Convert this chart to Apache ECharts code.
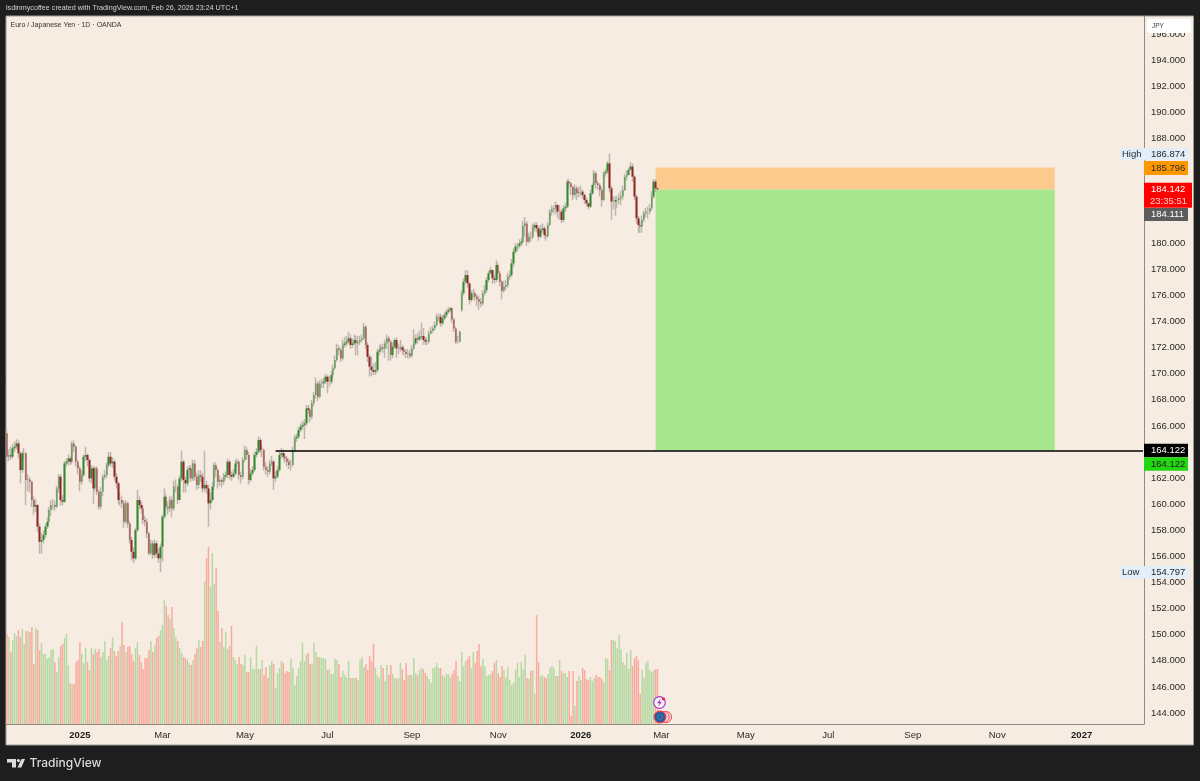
<html>
<head>
    <meta charset="utf-8">
    <title>EURJPY 1D</title>
    <script src="https://cdn.jsdelivr.net/npm/echarts@6/dist/echarts.min.js"></script>
    <style>
        html,body { margin:0; padding:0; width:100%; height:100%; background:#1e1e1e; overflow:hidden; }
        #main { width:1200px; height:781px; }
    </style>
</head>
<body>
    <div id="main"></div>
    <script type="text/javascript">
        // daily candles
        var opens = [
            165.43,163.64,163.77,163.64,164.28,164.41,164.66,163.90,162.62,163.90,
            163.90,161.85,161.90,161.72,160.32,159.81,159.94,158.28,157.13,157.26,
            157.64,158.28,158.66,159.55,159.94,159.94,159.81,161.21,162.11,160.32,
            160.19,163.13,163.26,163.51,163.26,164.66,164.41,163.26,162.75,161.72,
            162.24,163.64,163.77,163.39,161.98,162.75,161.21,162.75,160.96,159.81,
            160.96,162.11,162.24,163.00,163.64,163.13,163.26,162.11,161.60,160.32,
            160.32,160.07,158.66,160.07,158.53,157.26,156.36,155.85,158.02,160.32,
            159.94,159.68,158.79,158.66,157.77,156.23,157.00,156.11,157.00,156.23,
            155.85,156.74,159.04,160.58,159.81,159.68,160.32,159.68,161.34,161.34,
            160.32,161.98,163.26,161.85,161.60,162.62,162.75,161.98,163.13,162.11,
            161.47,162.24,162.11,161.21,161.47,161.21,160.07,160.32,161.34,163.00,
            162.62,161.72,161.85,161.72,162.11,162.24,163.26,162.24,162.11,162.36,
            163.13,163.26,162.24,162.11,163.39,164.15,163.77,161.85,162.36,162.62,
            163.77,164.02,164.92,164.15,164.15,162.87,162.62,162.49,163.13,163.26,
            161.98,162.11,162.62,163.77,163.90,163.64,163.51,163.26,163.00,163.00,
            164.15,165.05,165.17,165.68,165.94,166.07,166.20,167.34,167.22,166.71,
            167.73,168.37,169.26,168.24,169.26,169.26,169.39,169.77,169.39,169.39,
            169.90,170.41,171.05,171.94,171.81,171.17,172.20,172.33,172.45,172.71,
            172.20,172.33,172.58,172.33,172.45,172.58,172.71,173.60,172.20,171.30,
            170.54,170.28,170.15,170.28,171.69,171.81,172.02,171.94,172.33,172.71,
            172.45,171.43,172.07,172.58,171.94,171.94,172.02,171.81,171.69,171.51,
            171.56,171.35,171.94,172.33,172.71,172.63,172.84,172.89,172.58,172.45,
            172.45,173.09,173.30,173.47,173.73,174.37,174.37,173.86,174.24,174.50,
            174.75,174.88,175.01,174.16,173.47,172.45,172.45,174.88,176.16,177.05,
            177.56,176.92,175.65,176.16,176.16,175.90,175.70,175.52,175.39,176.16,
            176.41,177.18,177.69,177.94,177.30,177.18,178.33,177.69,177.05,176.36,
            176.67,176.79,177.43,177.56,178.45,179.35,179.74,179.79,179.99,180.12,
            181.32,181.52,180.12,180.50,180.45,181.22,181.40,181.14,180.50,181.01,
            181.14,180.63,180.55,181.40,182.42,182.60,182.67,182.93,182.42,182.42,
            181.78,182.67,182.80,184.72,184.59,184.33,183.70,184.21,183.82,183.95,
            183.95,183.70,183.31,183.06,182.80,183.82,184.46,185.36,184.59,184.46,
            184.08,183.31,185.36,185.48,186.12,184.21,183.19,183.19,183.31,183.31,
            183.44,183.57,184.08,185.10,185.23,185.61,185.87,185.10,183.57,181.91,
            181.40,181.27,181.78,182.29,182.42,182.42,182.67,183.57,184.72,184.21
        ];
        var closes = [
            163.64,163.77,163.64,164.28,164.41,164.66,163.90,162.62,163.90,163.90,
            161.85,161.90,161.72,160.32,159.81,159.94,158.28,157.13,157.26,157.64,
            158.28,158.66,159.55,159.94,159.94,159.81,161.21,162.11,160.32,160.19,
            163.13,163.26,163.51,163.26,164.66,164.41,163.26,162.75,161.72,162.24,
            163.64,163.77,163.39,161.98,162.75,161.21,162.75,160.96,159.81,160.96,
            162.11,162.24,163.00,163.64,163.13,163.26,162.11,161.60,160.32,160.32,
            160.07,158.66,160.07,158.53,157.26,156.36,155.85,158.02,160.32,159.94,
            159.68,158.79,158.66,157.77,156.23,157.00,156.11,157.00,156.23,155.85,
            156.74,159.04,160.58,159.81,159.68,160.32,159.68,161.34,161.34,160.32,
            161.98,163.26,161.85,161.60,162.62,162.75,161.98,163.13,162.11,161.47,
            162.24,162.11,161.21,161.47,161.21,160.07,160.32,161.34,163.00,162.62,
            161.72,161.85,161.72,162.11,162.24,163.26,162.24,162.11,162.36,163.13,
            163.26,162.24,162.11,163.39,164.15,163.77,161.85,162.36,162.62,163.77,
            164.02,164.92,164.15,164.15,162.87,162.62,162.49,163.13,163.26,161.98,
            162.11,162.62,163.77,163.90,163.64,163.51,163.26,163.00,163.00,164.15,
            165.05,165.17,165.68,165.94,166.07,166.20,167.34,167.22,166.71,167.73,
            168.37,169.26,168.24,169.26,169.26,169.39,169.77,169.39,169.39,169.90,
            170.41,171.05,171.94,171.81,171.17,172.20,172.33,172.45,172.71,172.20,
            172.33,172.58,172.33,172.45,172.58,172.71,173.60,172.20,171.30,170.54,
            170.28,170.15,170.28,171.69,171.81,172.02,171.94,172.33,172.71,172.45,
            171.43,172.07,172.58,171.94,171.94,172.02,171.81,171.69,171.51,171.56,
            171.35,171.94,172.33,172.71,172.63,172.84,172.89,172.58,172.45,172.45,
            173.09,173.30,173.47,173.73,174.37,174.37,173.86,174.24,174.50,174.75,
            174.88,175.01,174.16,173.47,172.45,172.45,173.22,176.16,177.05,177.56,
            176.92,175.65,176.16,176.16,175.90,175.70,175.52,175.39,176.16,176.41,
            177.18,177.69,177.94,177.30,177.18,178.33,177.69,177.05,176.36,176.67,
            176.79,177.43,177.56,178.45,179.35,179.74,179.79,179.99,180.12,181.32,
            181.52,180.12,180.50,180.45,181.22,181.40,181.14,180.50,181.01,181.14,
            180.63,180.55,181.40,182.42,182.60,182.67,182.93,182.42,182.42,181.78,
            182.67,182.80,184.72,184.59,184.33,183.70,184.21,183.82,183.95,183.95,
            183.70,183.31,183.06,182.80,183.82,184.46,185.36,184.59,184.46,184.08,
            183.31,185.36,185.48,186.12,184.21,183.19,183.19,183.31,183.31,183.44,
            183.57,184.08,185.10,185.23,185.61,185.87,185.10,183.57,181.91,181.40,
            181.27,181.78,182.29,182.42,182.42,182.67,183.57,184.72,184.21,184.14
        ];
        var highs = [
            165.81,164.2,164.4,164.6,164.8,164.97,164.9,164.0,164.1,164.3,
            164.0,162.3,162.1,161.8,160.6,160.4,160.0,158.5,157.8,158.0,
            158.5,159.0,159.8,160.3,160.4,160.3,161.4,162.3,162.3,160.7,
            163.3,163.5,163.8,163.7,164.8,164.9,164.5,163.4,162.9,162.6,
            163.8,164.4,163.9,163.5,163.0,162.9,162.9,162.9,161.1,161.3,
            162.3,162.6,163.2,164.0,164.0,163.6,163.4,162.4,161.7,160.9,
            160.6,160.3,160.3,160.2,158.7,157.5,156.7,158.2,161.1,160.6,
            160.2,159.9,159.1,158.9,157.9,157.3,157.2,157.3,157.2,156.6,
            157.0,159.2,161.2,160.8,160.2,160.6,160.6,161.8,161.9,161.5,
            162.2,164.1,163.4,162.1,162.9,163.0,163.0,163.4,163.4,162.4,
            162.6,162.6,162.4,164.1,161.8,161.5,160.9,161.7,163.2,163.2,
            162.8,162.2,162.0,162.4,162.5,163.5,163.4,162.5,162.7,163.4,
            163.5,163.4,162.5,163.6,164.5,164.4,164.0,162.7,162.9,164.0,
            164.3,165.2,165.1,164.5,164.3,163.2,162.9,163.4,163.7,163.4,
            162.5,162.9,164.0,164.3,164.2,163.9,163.7,163.5,163.4,164.4,
            165.3,165.4,165.9,166.2,166.4,166.5,167.6,167.6,167.4,168.0,
            168.6,169.7,169.4,169.5,169.6,169.7,170.0,169.9,169.8,170.2,
            170.7,171.4,172.3,172.2,172.0,172.6,172.8,172.9,173.2,173.0,
            172.7,173.0,172.9,172.9,172.9,173.0,173.9,173.7,172.4,171.5,
            171.3,170.8,170.9,171.9,172.2,172.3,172.3,172.6,173.0,172.9,
            172.6,172.4,172.7,172.8,172.3,172.6,172.2,172.1,171.9,171.9,
            171.8,172.2,173.4,173.0,173.1,173.3,173.9,173.5,172.8,172.8,
            173.3,173.6,173.7,174.0,174.6,174.6,174.6,174.5,174.7,174.95,
            175.1,175.1,175.1,174.3,173.6,172.9,173.3,176.4,177.3,177.95,
            177.9,177.0,176.4,176.5,176.3,176.1,176.0,175.8,176.4,176.8,
            177.4,177.9,178.2,178.0,177.6,178.7,178.5,177.9,177.2,177.1,
            177.2,177.7,177.9,178.8,179.6,180.0,180.0,180.3,180.4,181.7,
            182.0,181.7,180.8,180.9,181.5,181.6,181.6,181.3,181.4,181.5,
            181.3,181.0,181.6,182.6,182.9,182.9,183.2,183.0,182.9,182.6,
            182.9,183.1,184.9,184.9,184.7,184.4,184.5,184.4,184.3,184.4,
            184.1,183.8,183.5,183.1,184.1,184.6,185.6,185.5,184.8,184.6,
            184.3,185.5,185.7,186.3,186.874,184.4,183.6,183.6,183.6,183.8,
            184.0,184.4,185.3,185.6,185.8,186.2,186.1,185.2,183.7,182.1,
            181.7,182.1,182.5,182.7,182.8,183.0,184.0,184.9,184.9,184.3
        ];
        var lows = [
            163.2,163.3,163.4,163.5,164.0,164.2,163.5,161.6,162.4,163.4,
            159.94,161.0,160.9,159.8,159.2,159.4,157.9,156.2,156.2,157.0,
            157.4,158.1,158.5,159.1,159.6,159.5,159.7,160.9,159.9,159.9,
            160.1,162.9,163.0,163.0,163.1,164.0,162.9,162.3,161.0,161.5,
            162.1,163.3,162.9,161.7,161.6,160.0,161.0,160.7,159.6,159.6,
            160.6,161.9,162.0,162.8,162.9,162.8,161.8,161.2,160.0,159.9,
            159.7,158.2,158.5,158.2,157.0,155.7,155.5,155.7,157.9,159.6,
            159.3,158.5,158.3,157.4,156.1,156.1,155.8,155.9,155.9,155.5,
            154.797,155.6,158.9,159.5,159.2,159.4,159.0,159.5,160.9,160.0,
            160.3,161.8,160.9,160.9,161.4,162.0,161.7,161.8,161.8,161.1,
            161.2,161.7,160.9,160.96,160.8,158.28,159.6,160.2,161.1,162.1,
            161.2,161.4,161.3,161.5,161.9,162.0,161.9,161.8,162.0,162.2,
            162.9,161.9,161.6,161.9,163.2,163.4,161.5,161.7,162.2,162.5,
            163.6,163.9,163.9,163.6,162.6,162.3,162.1,162.3,162.9,161.1,
            161.7,162.0,162.5,163.5,163.4,163.2,162.9,162.7,162.6,162.9,
            164.0,164.8,165.0,165.5,165.7,165.0,166.0,166.9,166.3,166.5,
            167.5,168.1,167.9,168.1,168.9,168.9,169.2,168.5,169.0,169.2,
            169.7,170.3,170.9,171.4,170.9,171.0,172.0,172.1,172.3,171.9,
            172.0,172.2,171.4,171.4,172.2,172.4,172.6,171.9,170.9,169.8,
            169.8,169.9,169.9,170.1,171.4,171.7,171.6,171.2,171.9,171.0,
            171.0,171.2,171.9,171.2,171.5,171.7,171.5,171.4,171.2,171.2,
            171.15,171.2,171.8,172.2,172.3,172.5,172.6,172.2,172.2,172.2,
            172.3,173.0,173.1,173.3,173.6,174.0,173.6,173.7,174.1,174.3,
            174.6,174.7,173.9,173.2,172.3,172.3,172.4,174.75,176.0,176.9,
            176.6,175.3,175.5,175.8,175.6,175.2,174.9,175.1,175.2,176.0,
            176.2,177.0,177.6,176.9,176.9,177.0,177.3,176.7,175.7,176.2,
            176.4,176.6,177.2,177.4,178.2,179.2,179.4,179.6,179.8,180.0,
            180.5,179.8,180.0,180.1,180.3,180.9,180.8,180.2,180.4,180.8,
            180.4,180.2,180.4,181.3,182.1,182.3,182.2,181.9,181.8,181.55,
            181.6,182.4,182.7,184.2,183.7,183.3,183.5,183.3,183.5,183.6,
            183.4,183.0,182.8,182.6,182.7,183.7,184.3,184.2,184.1,183.6,
            182.8,183.2,185.1,185.3,183.9,181.8,182.6,182.1,182.7,183.0,
            182.9,183.3,184.0,184.8,185.2,185.6,184.7,183.3,181.5,180.8,
            180.8,180.8,181.6,182.0,181.9,182.2,182.5,183.4,183.9,184.0
        ];
        var volumes = [
            90,87,72,84,91,88,94,87,95,80,
            93,93,92,97,60,96,94,74,81,70,
            70,65,67,74,75,62,52,67,78,80,
            86,90,59,41,40,40,62,64,82,70,
            61,76,62,54,76,70,75,72,75,67,
            72,83,64,68,76,87,73,68,73,78,
            102,79,72,77,78,70,63,76,82,69,
            62,55,66,66,74,83,72,79,86,88,
            94,99,124,118,109,105,117,96,87,83,
            76,71,67,66,64,61,59,64,70,76,
            84,77,83,142,166,177,137,171,140,156,
            113,82,96,77,92,75,78,98,67,64,
            60,67,60,59,69,52,52,67,55,55,
            78,55,55,64,49,57,46,59,63,60,
            36,51,56,63,61,51,53,52,65,56,
            39,48,56,63,81,63,69,71,60,60,
            81,72,67,67,66,66,65,54,55,50,
            50,65,64,60,47,53,49,46,63,46,
            46,46,46,44,64,67,57,60,54,68,
            63,80,56,49,46,59,56,43,59,49,
            59,50,46,45,46,61,55,44,61,49,
            49,49,66,51,49,54,56,55,51,48,
            45,41,56,57,61,56,56,49,47,50,
            50,47,50,54,63,48,43,72,58,63,
            65,68,56,72,61,73,80,58,65,58,
            48,49,50,53,61,64,51,47,58,54,
            47,57,44,39,41,54,61,47,62,55,
            69,46,45,53,54,30,109,62,48,49,
            47,46,50,56,58,56,48,48,64,53,
            51,51,47,53,8,53,18,43,48,44,
            56,54,45,44,47,43,46,49,47,47,
            45,42,66,65,54,84,84,83,76,89,
            75,62,59,71,55,74,58,66,68,64,
            30,54,46,61,63,54,52,54,55,55
        ];

        var priceTicks = [196,194,192,190,188,180,178,176,174,172,170,168,166,162,160,158,156,154,152,150,148,146,144];
        var timeTickDates = ['2025-01-01','2025-03-03','2025-05-01','2025-07-01','2025-09-01','2025-11-03','2026-01-01','2026-03-02','2026-05-01','2026-07-01','2026-09-01','2026-11-02','2027-01-01'];
        var timeTickLabels = ['2025','Mar','May','Jul','Sep','Nov','2026','Mar','May','Jul','Sep','Nov','2027'];

        var positionEntry = 184.111;
        var positionStop = 185.796;
        var positionTarget = 164.122;
        var positionStartDate = '2026-02-25';
        var positionEndDate = '2026-12-14';
        var targetLineStartDate = '2025-05-23';

        var chipPrices = [186.874, 185.796, 184.142, 184.111, 164.122, 164.122, 154.797];
        var chipTexts = ['186.874','185.796','184.142','184.111','164.122','164.122','154.797'];
        var chipTags = ['High','','','','','','Low'];
        var countdownText = '23:35:51';

        // weekdays only, the way the picture lays its bars out
        var barCount = 593;
        var categories = [];
        var d = new Date(Date.UTC(2024, 10, 8));
        while (categories.length < barCount) {
            if (d.getUTCDay() != 0 && d.getUTCDay() != 6) categories.push(d.toISOString().slice(0, 10));
            d.setUTCDate(d.getUTCDate() + 1);
        }

        var chipStyles = [
            {x:1120, w:68, h:12.5, dy:0.4, bg:'#e3eefb', fg:'#2a2a2a'},
            {x:1144, w:44, h:14, dy:0.4, bg:'#ff9800', fg:'#2a2a2a'},
            {x:1144, w:48, h:25, dy:6, bg:'#ff0000', fg:'#ffffff'},
            {x:1144, w:44, h:13, dy:25, bg:'#5d5d5d', fg:'#ffffff'},
            {x:1144, w:44, h:13.5, dy:0, bg:'#000000', fg:'#ffffff'},
            {x:1144, w:44, h:13.5, dy:13.6, bg:'#22d611', fg:'#1e1e1e'},
            {x:1120, w:68, h:12.5, dy:0, bg:'#e3eefb', fg:'#2a2a2a'}
        ];

        var uiFont = '"Liberation Sans", sans-serif';
        var axisColor = '#8f8a85';
        var bgColor = '#f7ece1';

        var myChart = echarts.init(document.getElementById('main'), null, {renderer:'canvas'});

        var wickData = [], bodyData = [], volData = [];
        for (var i = 0; i < closes.length; i++) {
            wickData.push([opens[i], closes[i], lows[i], highs[i]]);
            bodyData.push([opens[i], closes[i], Math.min(opens[i], closes[i]), Math.max(opens[i], closes[i])]);
            volData.push({
                value: volumes[i],
                itemStyle: {color: closes[i] >= opens[i] ? '#b5d9a3' : '#f9aa9f'}
            });
        }

        function renderChip(params, api) {
            var i = params.dataIndex;
            var s = chipStyles[i];
            var y = api.coord([0, api.value(1)])[1] + s.dy;
            var textY = i == 2 ? y - 6 : y;
            var children = [
                {type:'rect', shape:{x:s.x, y:y - s.h / 2, width:s.w, height:s.h}, style:{fill:s.bg}},
                {type:'text', style:{text:chipTexts[i], x:1151, y:textY, fill:s.fg, font:'9.5px ' + uiFont, align:'left', verticalAlign:'middle'}}
            ];
            if (chipTags[i]) {
                children.push({type:'text', style:{text:chipTags[i], x:1122, y:textY, fill:s.fg, font:'9.5px ' + uiFont, align:'left', verticalAlign:'middle'}});
            }
            if (i == 2) {
                children.push({type:'text', style:{text:countdownText, x:1150, y:y + 6, fill:'#ffd0d0', font:'9.5px ' + uiFont, align:'left', verticalAlign:'middle'}});
            }
            return {type:'group', children:children};
        }

        var option = {
            backgroundColor: '#1e1e1e',
            animation: false,
            grid: {left:6, right:56, top:16, bottom:57, containLabel:false},
            xAxis: {
                type: 'category',
                data: categories,
                boundaryGap: true,
                axisTick: {show:false},
                axisLine: {lineStyle:{color:axisColor, width:1}},
                splitLine: {show:false},
                axisLabel: {
                    margin: 6,
                    color: '#2a2a2a',
                    fontSize: 9.5,
                    fontFamily: uiFont,
                    hideOverlap: false,
                    interval: function (index, value) { return timeTickDates.indexOf(value) >= 0; },
                    formatter: function (value) {
                        var t = timeTickLabels[timeTickDates.indexOf(value)];
                        return t && t.length == 4 ? '{y|' + t + '}' : t;
                    },
                    rich: {y:{fontWeight:'bold', fontSize:9.5, color:'#1a1a1a', fontFamily:uiFont}}
                }
            },
            yAxis: [
                {
                    type: 'value',
                    position: 'right',
                    min: 143.16,
                    max: 197.41,
                    axisLine: {show:true, lineStyle:{color:axisColor, width:1}},
                    axisTick: {show:false},
                    splitLine: {show:false},
                    axisLabel: {
                        margin: 7,
                        color: '#2a2a2a',
                        fontSize: 9.5,
                        fontFamily: uiFont,
                        customValues: priceTicks,
                        formatter: function (v) { return v.toFixed(3); }
                    }
                },
                {type:'value', min:0, max:708, show:false}
            ],
            series: [
                {
                    name: 'Position',
                    type: 'line',
                    data: [],
                    z: 1,
                    silent: true,
                    markArea: {
                        silent: true,
                        data: [
                            [{xAxis:positionStartDate, yAxis:positionStop, itemStyle:{color:'#fcca8c', opacity:1}}, {xAxis:positionEndDate, yAxis:positionEntry}],
                            [{xAxis:positionStartDate, yAxis:positionEntry, itemStyle:{color:'#a8e78e', opacity:1}}, {xAxis:positionEndDate, yAxis:positionTarget}]
                        ]
                    }
                },
                {
                    name: 'Volume',
                    type: 'bar',
                    yAxisIndex: 1,
                    data: volData,
                    barWidth: 1.5,
                    z: 2,
                    silent: true
                },
                {
                    name: 'Wicks',
                    type: 'candlestick',
                    data: wickData,
                    barWidth: 1,
                    z: 3,
                    silent: true,
                    itemStyle: {color:'#bdb5ae', color0:'#bdb5ae', borderColor:'#bdb5ae', borderColor0:'#bdb5ae', borderColorDoji:'#bdb5ae', borderWidth:1.5}
                },
                {
                    name: 'EURJPY',
                    type: 'candlestick',
                    data: bodyData,
                    barWidth: 2,
                    z: 4,
                    silent: true,
                    itemStyle: {color:'#2f8b2f', color0:'#8f2626', borderColor:'#2f8b2f', borderColor0:'#8f2626', borderColorDoji:'#555555', borderWidth:0}
                },
                {
                    name: 'Target',
                    type: 'line',
                    data: [],
                    z: 5,
                    silent: true,
                    markLine: {
                        silent: true,
                        symbol: 'none',
                        label: {show:false},
                        lineStyle: {color:'#000000', width:1.5, type:'solid'},
                        data: [[{xAxis:targetLineStartDate, yAxis:positionTarget}, {xAxis:categories[barCount - 1], yAxis:positionTarget}]]
                    }
                },
                {
                    name: 'Chips',
                    type: 'custom',
                    z: 6,
                    silent: true,
                    clip: false,
                    renderItem: renderChip,
                    encode: {x:0, y:1},
                    data: chipPrices.map(function (p) { return [0, p]; })
                }
            ],
            graphic: [
                {type:'rect', z:-1, silent:true, shape:{x:6, y:16, width:1187.5, height:729}, style:{fill:bgColor, stroke:'#a09b96', lineWidth:1}},
                {type:'text', z:100, silent:true, style:{text:'lsdinmycoffee created with TradingView.com, Feb 26, 2026 23:24 UTC+1', x:6, y:8.5, fill:'#d4d4d4', font:'7.2px ' + uiFont, verticalAlign:'middle'}},
                {type:'text', z:100, silent:true, style:{text:'Euro / Japanese Yen \u00b7 1D \u00b7 OANDA', x:10.5, y:25, fill:'#333333', font:'7px ' + uiFont, verticalAlign:'middle'}},
                // currency box hides the top of the 196 label
                {type:'rect', z:100, silent:true, shape:{x:1147, y:19, width:44, height:14, r:2}, style:{fill:'#ffffff'}},
                {type:'text', z:101, silent:true, style:{text:'JPY', x:1152, y:26, fill:'#444444', font:'6.5px ' + uiFont, verticalAlign:'middle'}},
                // event markers on the time axis
                {type:'circle', z:100, silent:true, shape:{cx:659.5, cy:702.5, r:5.8}, style:{fill:'#fbf4fb', stroke:'#a63bc4', lineWidth:1.2}},
                {type:'polygon', z:101, silent:true, shape:{points:[[660.5,698.8],[657,703.2],[659.2,703.2],[658.2,706.4],[662,701.8],[659.8,701.8]]}, style:{fill:'#a63bc4'}},
                {type:'circle', z:102, silent:true, shape:{cx:663.5, cy:699, r:1.6}, style:{fill:'#f0203a'}},
                {type:'circle', z:100, silent:true, shape:{cx:666, cy:717, r:5.6}, style:{fill:'#fbd0d0', stroke:'#f0566a', lineWidth:1}},
                {type:'circle', z:101, silent:true, shape:{cx:663.5, cy:717, r:5.6}, style:{fill:'#fbd0d0', stroke:'#f0566a', lineWidth:1}},
                {type:'circle', z:102, silent:true, shape:{cx:660, cy:717, r:5.8}, style:{fill:'#1f5fa8', stroke:'#f0364a', lineWidth:1.2}},
                {type:'circle', z:103, silent:true, shape:{cx:660, cy:717, r:2.4}, style:{fill:'none', stroke:'#e0c040', lineWidth:0.6, lineDash:[1,1]}},
                // TradingView mark
                {type:'polygon', z:100, silent:true, shape:{points:[[7,759],[16,759],[16,767.5],[12,767.5],[12,762.5],[7,762.5]]}, style:{fill:'#dcdcdc'}},
                {type:'circle', z:100, silent:true, shape:{cx:18.4, cy:760.6, r:1.6}, style:{fill:'#dcdcdc'}},
                {type:'polygon', z:100, silent:true, shape:{points:[[17.5,767.5],[21.5,759],[25,759],[21.3,767.5]]}, style:{fill:'#dcdcdc'}},
                {type:'text', z:100, silent:true, style:{text:'TradingView', x:29.5, y:763.5, fill:'#dcdcdc', font:'500 12px Inter, Roboto, sans-serif', verticalAlign:'middle'}}
            ]
        };
        myChart.setOption(option);
    </script>
</body>
</html>
